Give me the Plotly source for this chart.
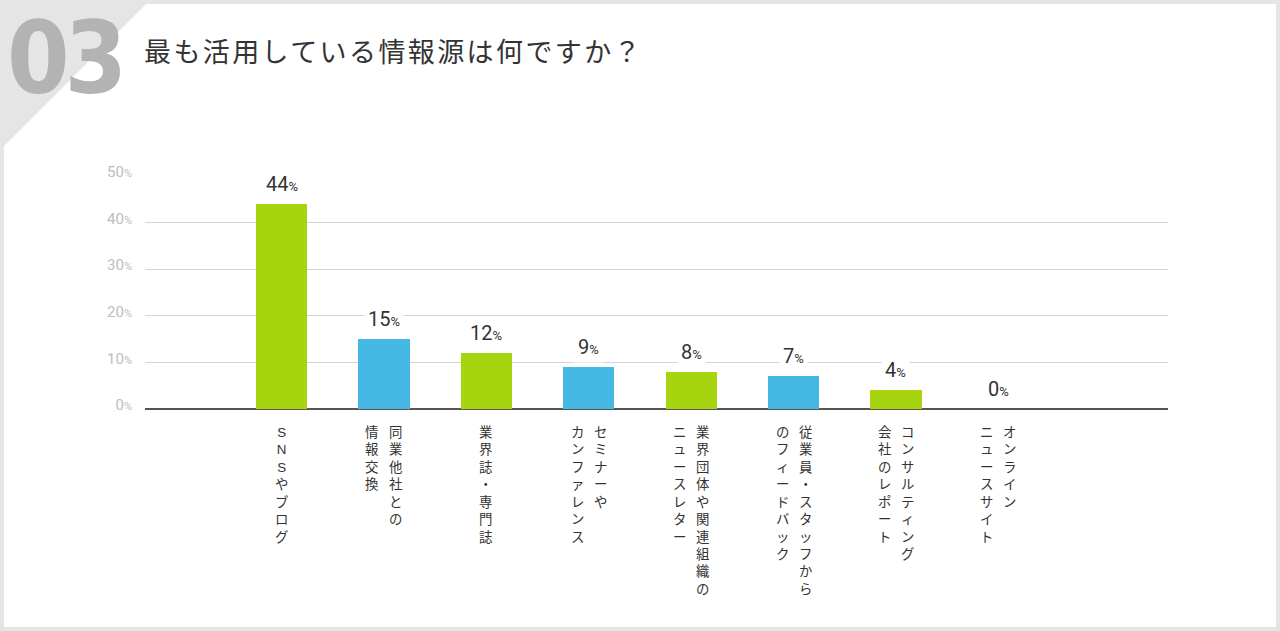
import plotly.graph_objects as go

# ---------------- data ----------------
categories = [
    "SNSやブログ",
    "同業他社との\n情報交換",
    "業界誌・専門誌",
    "セミナーや\nカンファレンス",
    "業界団体や関連組織の\nニュースレター",
    "従業員・スタッフから\nのフィードバック",
    "コンサルティング\n会社のレポート",
    "オンライン\nニュースサイト",
]
values = [44, 15, 12, 9, 8, 7, 4, 0]
bar_colors = ["#a6d40f", "#45b9e4", "#a6d40f", "#45b9e4",
              "#a6d40f", "#45b9e4", "#a6d40f", "#45b9e4"]
y_tick_values = [0, 10, 20, 30, 40, 50]
title_text = "最も活用している情報源は何ですか？"
number_text = "03"

# ---------------- layout geometry ----------------
W, H = 1280, 631
L, R, T, B = 145, 112, 175, 221
PW, PH = W - L - R, H - T - B


def px_x(px):
    return (px - L) / PW


def px_y(py):
    return (H - B - py) / PH


JP = "Noto Sans CJK JP, Noto Sans, sans-serif"
JP_TIGHT = "Liberation Sans, Noto Sans CJK JP, sans-serif"
NUM = "Roboto, DejaVu Sans, sans-serif"

fig = go.Figure()
fig.add_trace(go.Bar(
    x=categories, y=values, width=0.5,
    marker=dict(color=bar_colors, line=dict(width=0)),
    hoverinfo="skip",
))

annotations = []

# value labels above bars
for c, v in zip(categories, values):
    annotations.append(dict(
        x=c, y=v, xref="x", yref="y", showarrow=False,
        xanchor="center", yanchor="bottom", yshift=4,
        text=f"{v}<span style='font-size:13px'>%</span>",
        font=dict(family=NUM, size=20, color="#333333"),
        bgcolor="#ffffff", borderpad=3,
    ))

# vertical (tategaki) category labels: one column per line, one char per row
COL_GAP = 11.5
for c in categories:
    cols = c.split("\n")
    n = len(cols)
    for ci, col in enumerate(cols):
        xs = 0 if n == 1 else (COL_GAP if ci == 0 else -COL_GAP)
        annotations.append(dict(
            x=c, y=0, xref="x", yref="y", showarrow=False,
            xanchor="center", yanchor="top", align="center",
            xshift=xs, yshift=-14,
            text="<br>".join(list(col)),
            font=dict(family=JP_TIGHT, size=13.4, color="#333333"),
        ))

# title
annotations.append(dict(
    x=px_x(142), y=px_y(51), xref="paper", yref="paper", showarrow=False,
    xanchor="left", yanchor="middle",
    text=f"<span style='letter-spacing:2.4px'>{title_text}</span>",
    font=dict(family=JP, size=27, color="#333333"),
))
# big number
annotations.append(dict(
    x=px_x(64), y=px_y(59), xref="paper", yref="paper", showarrow=False,
    xanchor="center", yanchor="middle",
    text=f"<span style='font-stretch:condensed;letter-spacing:-5px'>{number_text}</span>",
    font=dict(family="DejaVu Sans, sans-serif", size=100, color="#b3b3b3",
              weight="bold"),
))

shapes = [
    # white card
    dict(type="rect", xref="paper", yref="paper", layer="below",
         x0=px_x(4), x1=px_x(1276), y0=px_y(627), y1=px_y(4),
         fillcolor="#ffffff", line=dict(width=0)),
    # corner triangle
    dict(type="path", xref="paper", yref="paper", layer="below",
         path=(f"M {px_x(0)},{px_y(0)} L {px_x(150)},{px_y(0)} "
               f"L {px_x(0)},{px_y(150)} Z"),
         fillcolor="#e5e5e5", line=dict(width=0)),
]

fig.update_layout(
    width=W, height=H,
    margin=dict(l=L, r=R, t=T, b=B, pad=0),
    paper_bgcolor="#e5e5e5", plot_bgcolor="rgba(0,0,0,0)",
    showlegend=False, bargap=0,
    annotations=annotations, shapes=shapes,
    xaxis=dict(type="category", range=[-1.333, 8.657], showticklabels=False,
               showgrid=False, zeroline=False, showline=False, fixedrange=True),
    yaxis=dict(range=[-0.215, 50.215], tickvals=y_tick_values,
               ticktext=[f"{t}<span style='font-size:11px'>%</span>" for t in y_tick_values],
               tickfont=dict(family=NUM, size=15, color="#bdbdbd"),
               ticklabelstandoff=12, ticklabelshift=-4,
               showgrid=True, gridcolor="#d4d4d4", gridwidth=1,
               zeroline=True, zerolinecolor="#555555", zerolinewidth=1.5,
               showline=False, fixedrange=True),
)

fig.write_html("out.html", config={"displayModeBar": False},
               post_script="document.body.style.margin='0';document.body.style.overflow='hidden';")
